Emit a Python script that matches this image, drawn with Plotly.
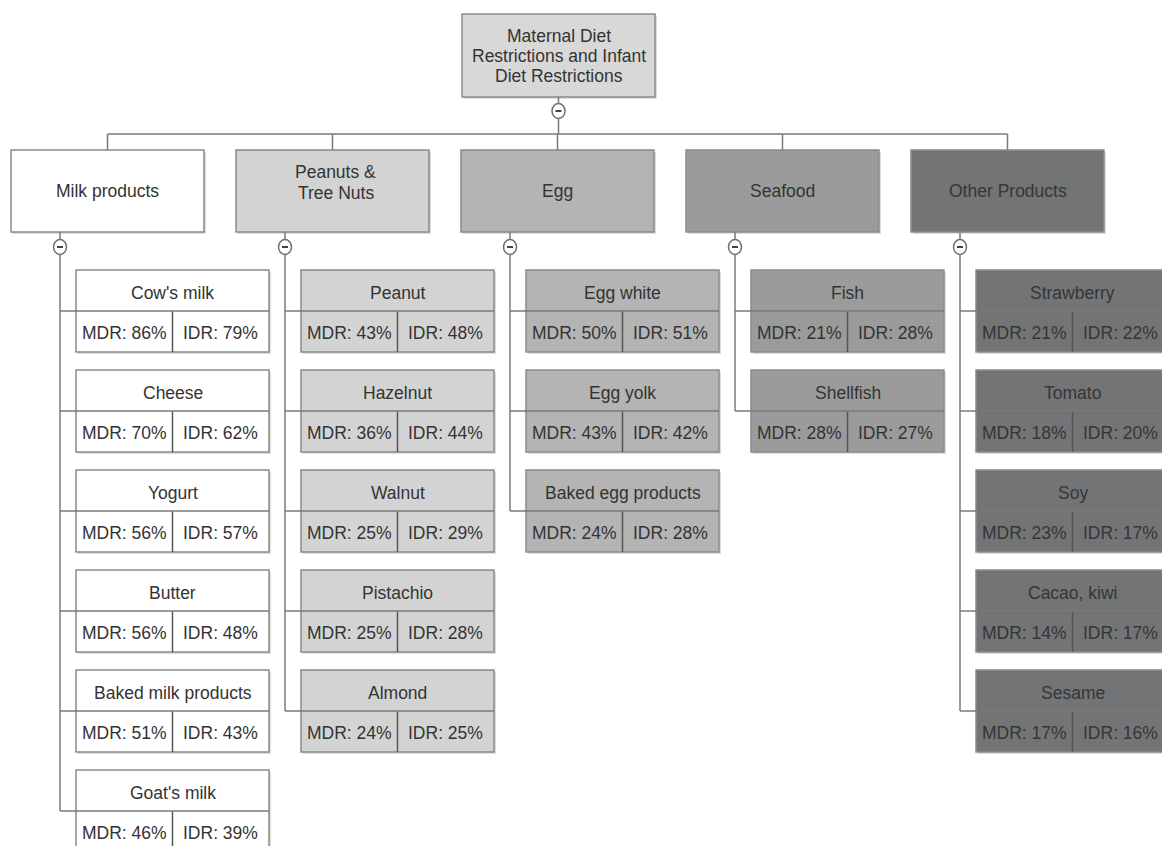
import plotly.graph_objects as go

# ---------------- data ----------------
root_lines = ["Maternal Diet", "Restrictions and Infant", "Diet Restrictions"]
categories = [["Milk products"], ["Peanuts &", "Tree Nuts"], ["Egg"], ["Seafood"], ["Other Products"]]

milk_items = ["Cow's milk", "Cheese", "Yogurt", "Butter", "Baked milk products", "Goat's milk"]
milk_mdr = [86, 70, 56, 56, 51, 46]
milk_idr = [79, 62, 57, 48, 43, 39]

nut_items = ["Peanut", "Hazelnut", "Walnut", "Pistachio", "Almond"]
nut_mdr = [43, 36, 25, 25, 24]
nut_idr = [48, 44, 29, 28, 25]

egg_items = ["Egg white", "Egg yolk", "Baked egg products"]
egg_mdr = [50, 43, 24]
egg_idr = [51, 42, 28]

sea_items = ["Fish", "Shellfish"]
sea_mdr = [21, 28]
sea_idr = [28, 27]

other_items = ["Strawberry", "Tomato", "Soy", "Cacao, kiwi", "Sesame"]
other_mdr = [21, 18, 23, 14, 17]
other_idr = [22, 20, 17, 17, 16]

groups = [
    (milk_items, milk_mdr, milk_idr),
    (nut_items, nut_mdr, nut_idr),
    (egg_items, egg_mdr, egg_idr),
    (sea_items, sea_mdr, sea_idr),
    (other_items, other_mdr, other_idr),
]

# ---------------- style / layout ----------------
W, H = 1162, 846
fills = ["#ffffff", "#d3d3d3", "#b4b4b4", "#9b9b9b", "#737475"]
root_fill = "#d8d8d8"
text_col = ["#333333", "#333333", "#333333", "#333333", "#353637"]
border = "#8a8a8a"
line_col = "#7a7a7a"
FONT = "Liberation Sans, Arial, Helvetica, sans-serif"
FS = 17.5

CAT_X0, CAT_STEP, BOX_W = 11, 225, 193
CAT_Y0, CAT_Y1 = 150, 232
ROOT_X0, ROOT_Y0, ROOT_Y1 = 462, 14, 97
BUS_Y = 134
LEAF_DX, LEAF_Y0, LEAF_STEP, LEAF_H = 65, 270, 100, 82
TRUNK_DX = 49
CIRC_Y_CAT = 247
CIRC_Y_ROOT = 111
CR_X, CR_Y = 6.5, 7.5

shapes = []
annots = []


def rect(x0, y0, x1, y1, fill, shadow=True):
    if shadow:
        shapes.append(dict(type="rect", x0=x0 + 2, y0=y0 + 2, x1=x1 + 2, y1=y1 + 2,
                           xref="x", yref="y", fillcolor="rgba(0,0,0,0.13)",
                           line=dict(width=0), layer="below"))
    shapes.append(dict(type="rect", x0=x0, y0=y0, x1=x1, y1=y1, xref="x", yref="y",
                       fillcolor=fill, line=dict(color=border, width=1.5), layer="below"))


def line(x0, y0, x1, y1, color=line_col, width=1.5, layer="above"):
    shapes.append(dict(type="line", x0=x0, y0=y0, x1=x1, y1=y1, xref="x", yref="y",
                       line=dict(color=color, width=width), layer=layer))


def circle(cx, cy):
    shapes.append(dict(type="circle", x0=cx - CR_X, y0=cy - CR_Y, x1=cx + CR_X, y1=cy + CR_Y,
                       xref="x", yref="y", fillcolor="#ffffff",
                       line=dict(color="#6f6f6f", width=1.5), layer="above"))
    line(cx - 3, cy, cx + 3, cy, color="#444444", width=2)


def text(x, y, s, color="#333333", size=FS):
    annots.append(dict(x=x, y=y, xref="x", yref="y", text=s, showarrow=False,
                       font=dict(family=FONT, size=size, color=color),
                       xanchor="center", yanchor="middle"))


# root
root_cx = ROOT_X0 + BOX_W / 2
rect(ROOT_X0, ROOT_Y0, ROOT_X0 + BOX_W, ROOT_Y1, root_fill)
rc_y = (ROOT_Y0 + ROOT_Y1) / 2
for k, s in enumerate(root_lines):
    text(root_cx, rc_y + (k - (len(root_lines) - 1) / 2) * 20, s)
line(root_cx, ROOT_Y1, root_cx, CIRC_Y_ROOT - CR_Y)
line(root_cx, CIRC_Y_ROOT + CR_Y, root_cx, BUS_Y)
circle(root_cx, CIRC_Y_ROOT)

# bus
first_cx = CAT_X0 + BOX_W / 2
last_cx = CAT_X0 + (len(categories) - 1) * CAT_STEP + BOX_W / 2
line(first_cx, BUS_Y, last_cx, BUS_Y)

for i, (cat, (items, mdr, idr)) in enumerate(zip(categories, groups)):
    x0 = CAT_X0 + i * CAT_STEP
    cx = x0 + BOX_W / 2
    line(cx, BUS_Y, cx, CAT_Y0)
    rect(x0, CAT_Y0, x0 + BOX_W, CAT_Y1, fills[i])
    cy = (CAT_Y0 + CAT_Y1) / 2
    for k, s in enumerate(cat):
        text(cx + (3 if len(cat) > 1 else 0),
             cy + (k - (len(cat) - 1) / 2) * 21 - (9 if len(cat) > 1 else 0), s, text_col[i])

    tx = x0 + TRUNK_DX
    line(tx, CAT_Y1, tx, CIRC_Y_CAT - CR_Y)
    circle(tx, CIRC_Y_CAT)

    lx0 = x0 + LEAF_DX
    lx1 = lx0 + BOX_W
    lmid = (lx0 + lx1) / 2
    last_div = None
    for j, (name, m, d) in enumerate(zip(items, mdr, idr)):
        ly0 = LEAF_Y0 + j * LEAF_STEP
        ly1 = ly0 + LEAF_H
        ldiv = ly0 + LEAF_H / 2
        rect(lx0, ly0, lx1, ly1, fills[i])
        line(lmid, ldiv, lmid, ly1, color="#555555", width=1.5)
        line(tx, ldiv, lx1, ldiv)
        text(lmid, ly0 + LEAF_H / 4 + 2, name, text_col[i])
        text((lx0 + lmid) / 2, ly0 + 3 * LEAF_H / 4 + 1, f"MDR: {m}%", text_col[i])
        text((lmid + lx1) / 2, ly0 + 3 * LEAF_H / 4 + 1, f"IDR: {d}%", text_col[i])
        last_div = ldiv
    line(tx, CIRC_Y_CAT + CR_Y, tx, last_div)

fig = go.Figure()
fig.add_trace(go.Scatter(x=[], y=[], mode="markers", showlegend=False, hoverinfo="skip"))
fig.update_layout(
    width=W, height=H,
    margin=dict(l=0, r=0, t=0, b=0),
    paper_bgcolor="#ffffff", plot_bgcolor="#ffffff",
    xaxis=dict(range=[0, W], visible=False, fixedrange=True),
    yaxis=dict(range=[H, 0], visible=False, fixedrange=True),
    shapes=shapes, annotations=annots, showlegend=False,
)
fig.write_html(
    "out.html",
    config={"displayModeBar": False, "staticPlot": True},
    post_script="document.body.style.margin='0';document.body.style.overflow='hidden';",
)
